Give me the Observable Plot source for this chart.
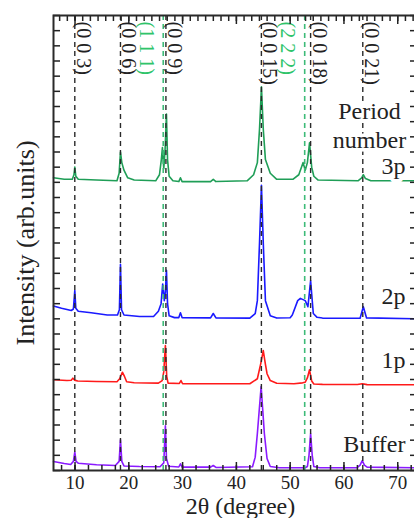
<!DOCTYPE html>
<html><head><meta charset="utf-8">
<script src="https://cdn.jsdelivr.net/npm/d3@7"></script>
<script src="https://cdn.jsdelivr.net/npm/@observablehq/plot@0.6"></script>
<style>html,body{margin:0;padding:0;background:#fff;overflow:hidden;width:414px;height:518px}#chart svg{max-width:none!important}</style>
</head><body><div id="chart"></div><script>
// ---- Data (2θ in degrees, intensity in arbitrary offset units) ----
const seriesNames = ["Buffer", "1p", "2p", "3p"];
const seriesColors = ["#8a1aff", "#ff1a1a", "#1a1aff", "#1f9e57"];

const thetaBuffer = [6.0, 8.0, 9.2, 9.7, 9.96, 10.2, 10.6, 14, 17.5, 18.2, 18.45, 18.7, 19.1, 22, 25.8, 26.5, 26.8, 27.0, 27.4, 29.3, 29.6, 29.9, 35.2, 35.7, 36.2, 43.0, 43.5, 43.9, 44.6, 45.2, 45.7, 46.3, 48, 52.8, 53.2, 53.5, 53.8, 54.1, 54.4, 55.5, 62.4, 63.0, 63.4, 63.8, 64.3, 73.3];
const intBuffer   = [5.9, 4.6, 4.0, 6, 12.1, 6, 4.8, 3.8, 3.3, 6, 20.2, 6, 3, 2.6, 2.5, 5, 29.5, 8, 2.8, 2.3, 4.4, 2.2, 2.2, 3.3, 2, 2.5, 8.8, 24.4, 55.4, 24.4, 7.9, 2.6, 1.8, 1.8, 2.6, 10, 24.2, 10, 2.6, 1.8, 1.8, 3.5, 6.6, 3.5, 2.2, 1.8];

const theta1p = [6.0, 8.5, 9.3, 9.6, 9.9, 10.5, 14, 17.8, 18.3, 18.8, 19.2, 19.6, 21, 25.5, 26.2, 26.5, 26.8, 27.05, 27.3, 29.4, 29.7, 30.0, 35, 42.5, 43.9, 44.5, 45.0, 45.4, 45.7, 46.3, 47.5, 50.7, 52.3, 52.8, 53.2, 53.6, 54.0, 54.4, 56, 62.5, 63.4, 64.3, 73.3];
const int1p   = [59.8, 59.3, 59.5, 60.9, 59.6, 59, 58.7, 58.5, 60.5, 64.8, 62, 58.5, 57.9, 57.6, 59.3, 65, 82.4, 62, 57.6, 57.4, 59.3, 57.2, 57.2, 57.2, 60.5, 70, 79.1, 70, 63.8, 59.3, 57.5, 57.2, 57.8, 58.2, 61, 66.4, 59, 57, 56.8, 56.7, 57.2, 56.6, 56.5];

const theta2p = [6.0, 7.5, 9.3, 9.7, 9.96, 10.15, 10.6, 13, 16, 17.9, 18.25, 18.45, 18.65, 19.1, 22, 24.6, 25.5, 26.0, 26.3, 26.6, 26.8, 27.0, 27.2, 27.5, 28.5, 29.3, 29.6, 29.9, 35.2, 35.7, 36.2, 42.5, 43.5, 43.9, 44.3, 44.66, 45.0, 45.4, 46.3, 47.5, 50.0, 50.4, 51.4, 51.9, 52.2, 52.8, 53.3, 53.8, 54.3, 55.0, 56, 63.0, 63.6, 64.2, 73.3];
const int2p   = [108.5, 107, 105.5, 106.5, 118.7, 107, 105, 104, 102.5, 102.5, 106, 136, 106, 102.5, 101.5, 101.5, 105, 110, 123, 112, 118, 132, 110, 102, 100.8, 100.8, 104, 100.8, 100.6, 103.5, 100.6, 100.5, 103.5, 112, 150, 188, 150, 112, 102, 100.5, 100.7, 102.5, 112, 113.5, 113, 112, 108, 125, 103.5, 101, 100.5, 100.4, 108, 100.6, 100];

const theta3p = [6.0, 8.0, 9.5, 9.8, 9.96, 10.15, 10.6, 14, 17.8, 18.2, 18.45, 18.7, 19.1, 19.8, 21, 25.0, 25.7, 26.05, 26.25, 26.5, 26.75, 27.0, 27.2, 27.5, 28.2, 29.3, 29.6, 29.9, 35.2, 35.7, 36.2, 42.0, 43.2, 43.9, 44.3, 44.66, 45.0, 45.4, 46.3, 47.5, 50.5, 51.6, 52.1, 52.4, 52.8, 53.2, 53.6, 54.0, 54.4, 55.2, 62.6, 63.3, 63.6, 64.0, 65, 73.3];
const int3p   = [193, 192, 192, 195, 200, 194, 192, 191.5, 191, 196, 210, 203, 198, 193, 191.5, 191, 195, 205, 213, 199, 212, 235, 205, 194, 191, 190.5, 193, 190.5, 190.5, 192, 190.5, 191, 195, 203, 225, 253, 225, 205, 196, 192, 192, 195, 200, 203, 198, 203, 216, 200, 194, 191.5, 191, 193, 195, 192.5, 191, 191];

const seriesTheta = [thetaBuffer, theta1p, theta2p, theta3p];
const seriesInt = [intBuffer, int1p, int2p, int3p];

// reflection markers
const blackPeakPos = [9.96, 18.45, 26.9, 44.65, 53.8, 63.5];
const blackPeakLabels = ["(0 0 3)", "(0 0 6)", "(0 0 9)", "(0 0 15)", "(0 0 18)", "(0 0 21)"];
const greenPeakPos = [26.4, 52.7];
const greenPeakLabels = ["(1 1 1)", "(2 2 2)"];

// side labels
const sideLabels = ["3p", "2p", "1p", "Buffer"];
const sideLabelY = [200.8, 114.7, 72.8, 17.5];
const headerLabels = ["Period", "number"];
const headerLabelY = [237, 218];

const xTickLabels = [10, 20, 30, 40, 50, 60, 70];
const xMinorBottom = d3.range(7.5, 73.3, 2.5);
const xMinorTop = d3.range(0, 8).flatMap(k => d3.range(0, 7).map(j => k * 10 + j * 10 / 7)).filter(v => v >= 6 && v <= 73.3);
const yTicks = d3.range(0, 301, 10);

const rows = seriesNames.flatMap((s, i) => seriesTheta[i].map((t, j) => ({series: s, theta: t, intensity: seriesInt[i][j]})));
const black = blackPeakPos.map((p, i) => ({pos: p, label: blackPeakLabels[i]}));
const green = greenPeakPos.map((p, i) => ({pos: p, label: greenPeakLabels[i]}));
const side = sideLabels.map((t, i) => ({t, y: sideLabelY[i]}));
const header = headerLabels.map((t, i) => ({t, y: headerLabelY[i]}));

const serif = "'Liberation Serif', 'Times New Roman', serif";

const chart = Plot.plot({
  width: 418, height: 518,
  marginLeft: 53, marginRight: 3, marginTop: 15, marginBottom: 48,
  style: {fontFamily: serif, background: "white", color: "#222", overflow: "visible"},
  x: {domain: [6, 73.3]},
  y: {domain: [0, 300]},
  color: {domain: seriesNames, range: seriesColors},
  marks: [
    ...seriesNames.map((s, i) => Plot.line(rows.filter(r => r.series === s), {x: "theta", y: "intensity", stroke: seriesColors[i], strokeWidth: 1.6})),
    Plot.ruleX(black, {x: "pos", stroke: "#2a2a2a", strokeWidth: 1.4, strokeDasharray: "5,4"}),
    Plot.ruleX(green, {x: "pos", stroke: "#3dbb78", strokeWidth: 1.6, strokeDasharray: "5,4"}),
    Plot.text(black, {x: "pos", text: "label", frameAnchor: "top", rotate: 90, textAnchor: "start", lineAnchor: "bottom", dx: 2, dy: 6, fontSize: 20, fontFamily: serif, fill: "#222"}),
    Plot.text(green, {x: "pos", text: "label", frameAnchor: "top", rotate: 90, textAnchor: "start", lineAnchor: "top", dx: -9, dy: 6, fontSize: 20, fontFamily: serif, fill: "#2fc46a"}),
    Plot.text(header, {y: "y", text: "t", frameAnchor: "right", textAnchor: "middle", lineAnchor: "middle", dx: -46, fontSize: 24, fontFamily: serif, fill: "#222", stroke: "white", strokeWidth: 7}),
    Plot.text(side, {y: "y", text: "t", frameAnchor: "right", textAnchor: "end", lineAnchor: "middle", dx: -10, fontSize: 24, fontFamily: serif, fill: "#222", stroke: "white", strokeWidth: 7}),
    // ticks (inward)
    Plot.axisX({anchor: "bottom", ticks: xTickLabels, tickSize: -8, tickFormat: () => "", label: null, strokeWidth: 1.5}),
    Plot.axisX({anchor: "bottom", ticks: xMinorBottom, tickSize: -5, tickFormat: () => "", label: null, strokeWidth: 1.5}),
    Plot.axisX({anchor: "bottom", ticks: xTickLabels, tickSize: 0, tickPadding: 5, fontSize: 19, fontFamily: serif, fill: "#222", label: null}),
    Plot.axisX({anchor: "top", ticks: xTickLabels, tickSize: -8, tickFormat: () => "", label: null, strokeWidth: 1.5}),
    Plot.axisX({anchor: "top", ticks: xMinorTop, tickSize: -5, tickFormat: () => "", label: null, strokeWidth: 1.5}),
    Plot.axisY({anchor: "left", ticks: yTicks, tickSize: -7, tickFormat: () => "", label: null, strokeWidth: 1.5}),
    Plot.axisY({anchor: "right", ticks: yTicks, tickSize: -6, tickFormat: () => "", label: null, strokeWidth: 1.5}),
    Plot.text(["2θ (degree)"], {frameAnchor: "bottom", textAnchor: "middle", lineAnchor: "middle", dy: 36, dx: 6, fontSize: 24, fontFamily: serif, fill: "#222"}),
    Plot.text(["Intensity (arb.units)"], {frameAnchor: "left", textAnchor: "middle", lineAnchor: "middle", rotate: -90, dx: -28, fontSize: 26, fontFamily: serif, fill: "#222"}),
    Plot.frame({stroke: "#2a2a2a", strokeWidth: 2})
  ]
});
chart.style.maxWidth = "none";
document.getElementById("chart").appendChild(chart);
</script></body></html>
